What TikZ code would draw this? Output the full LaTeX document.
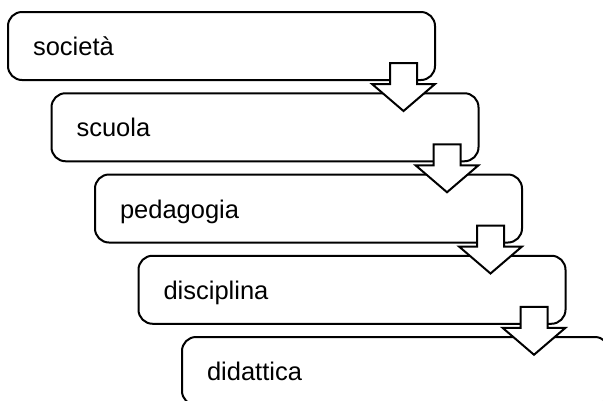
\documentclass[tikz,border=0pt]{standalone}
\usepackage{fontspec}
\setmainfont{Liberation Sans}
\usetikzlibrary{calc}
\begin{document}
\begin{tikzpicture}[x=1pt,y=-1pt,
  stagebox/.style={draw=black, line width=2pt, fill=white, rounded corners=14pt,
    anchor=north west, minimum width=427pt, minimum height=68pt, outer sep=0pt,
    inner xsep=25pt, text width=377pt, align=left,
    text height=19pt, text depth=0pt,
    font=\fontsize{25.5}{30}\selectfont},
  downarrow/.style={draw=black, line width=2pt, fill=white, line join=miter}]
\clip (0,0) rectangle (603,400);
\useasboundingbox (0,0) rectangle (603,400);
\node[stagebox] (b1) at (8,12) {società};
\node[stagebox] (b2) at (51.5,93.25) {scuola};
\node[stagebox] (b3) at (95,174.5) {pedagogia};
\node[stagebox] (b4) at (138.5,255.75) {disciplina};
\node[stagebox] (b5) at (182,337) {didattica};
\foreach \b in {b1,b2,b3,b4}{
  \draw[downarrow] ($(\b.south east)+(-45,-17)$) -- ($(\b.south east)+(-18,-17)$)
    -- ($(\b.south east)+(-18,4)$) -- ($(\b.south east)+(0,4)$)
    -- ($(\b.south east)+(-31.5,31)$) -- ($(\b.south east)+(-63,4)$)
    -- ($(\b.south east)+(-45,4)$) -- cycle;
}
\end{tikzpicture}
\end{document}
